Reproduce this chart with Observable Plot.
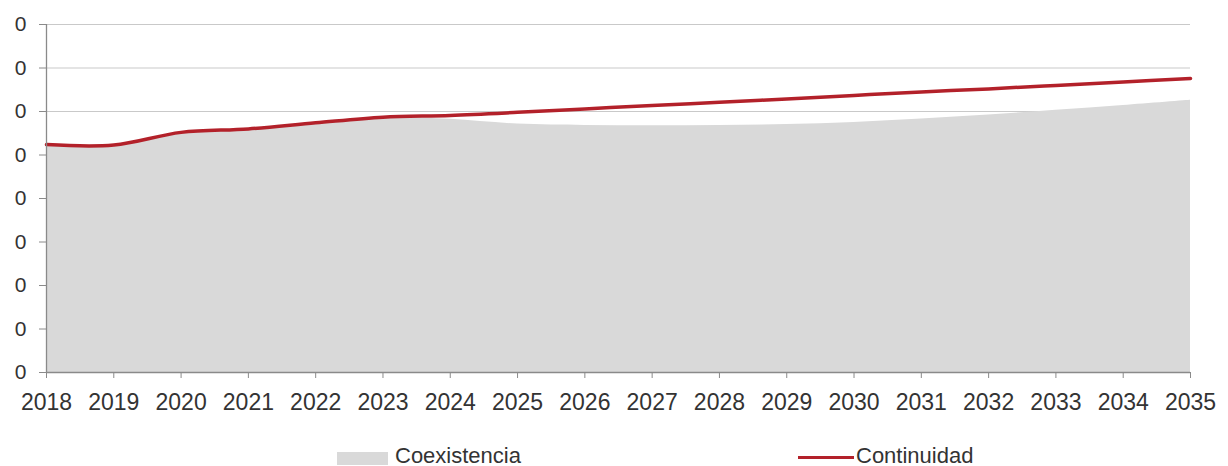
<!DOCTYPE html>
<html>
<head>
<meta charset="utf-8">
<script src="https://cdn.jsdelivr.net/npm/d3@7"></script>
<script src="https://cdn.jsdelivr.net/npm/@observablehq/plot@0.6"></script>
<style>
  html, body { margin: 0; padding: 0; background: #fff; }
  #wrap { position: relative; width: 1228px; height: 466px; font-family: "Liberation Sans", Arial, sans-serif; color: #333; }
  #legend { position: relative; width: 1228px; height: 36px; }
  .sw-area { position: absolute; left: 337px; top: 22px; width: 51px; height: 13px; background: #d9d9d9; }
  .sw-line { position: absolute; left: 798px; top: 26px; width: 56px; height: 3px; background: #b3212a; }
  .lbl { position: absolute; top: 17px; font-size: 22px; line-height: 18px; color: #333; white-space: nowrap; }
</style>
</head>
<body>
<div id="wrap">
  <div id="chart"></div>
  <div id="legend">
    <div class="sw-area"></div><div class="lbl" style="left:395px">Coexistencia</div>
    <div class="sw-line"></div><div class="lbl" style="left:856px">Continuidad</div>
  </div>
</div>
<script>
// Years on the horizontal axis
const years = [2018, 2019, 2020, 2021, 2022, 2023, 2024, 2025, 2026, 2027, 2028, 2029, 2030, 2031, 2032, 2033, 2034, 2035];

// Scenario "Coexistencia" (grey area)
const coexistencia = [5.24, 5.23, 5.52, 5.59, 5.74, 5.86, 5.82, 5.71, 5.68, 5.67, 5.68, 5.70, 5.75, 5.83, 5.92, 6.03, 6.14, 6.26];

// Scenario "Continuidad" (red line)
const continuidad = [5.24, 5.23, 5.52, 5.60, 5.74, 5.87, 5.91, 5.98, 6.06, 6.14, 6.21, 6.29, 6.37, 6.45, 6.52, 6.60, 6.68, 6.76];

// Vertical axis ticks and their printed labels
const yTicks = [0, 1, 2, 3, 4, 5, 6, 7, 8];
const yTickLabels = ["0", "0", "0", "0", "0", "0", "0", "0", "0"];

const rows = years.map((year, i) => ({ year, coexistencia: coexistencia[i], continuidad: continuidad[i] }));

const axisColor = "#8a8a8a";
const gridColor = "#c9c9c9";

const chart = Plot.plot({
  width: 1228,
  height: 430,
  marginLeft: 46,
  marginRight: 38,
  marginTop: 24,
  marginBottom: 58,
  style: { fontFamily: "'Liberation Sans', Arial, sans-serif", color: "#333", background: "#fff" },
  x: { type: "linear", domain: [2018, 2035], label: null },
  y: { domain: [0, 8], label: null },
  marks: [
    Plot.ruleY(yTicks.filter(d => d > 0), { stroke: gridColor, strokeWidth: 1.2 }),
    Plot.areaY(rows, { x: "year", y: "coexistencia", fill: "#d9d9d9", curve: "catmull-rom" }),
    Plot.line(rows, { x: "year", y: "continuidad", stroke: "#b3212a", strokeWidth: 3.5, curve: "catmull-rom", strokeLinecap: "round" }),
    Plot.ruleY([0], { stroke: axisColor, strokeWidth: 1.3 }),
    Plot.ruleX([2018], { stroke: axisColor, strokeWidth: 1.3 }),
    Plot.axisX({ ticks: years, tickFormat: d => String(d), tickSize: 6, tickPadding: 15, stroke: axisColor, fontSize: 23, fill: "#333", label: null }),
    Plot.axisY({ ticks: yTicks, tickFormat: (d, i) => yTickLabels[i], tickSize: 7, tickPadding: 13, stroke: axisColor, fontSize: 21, fill: "#333", label: null })
  ]
});
document.getElementById("chart").appendChild(chart);
</script>
</body>
</html>
